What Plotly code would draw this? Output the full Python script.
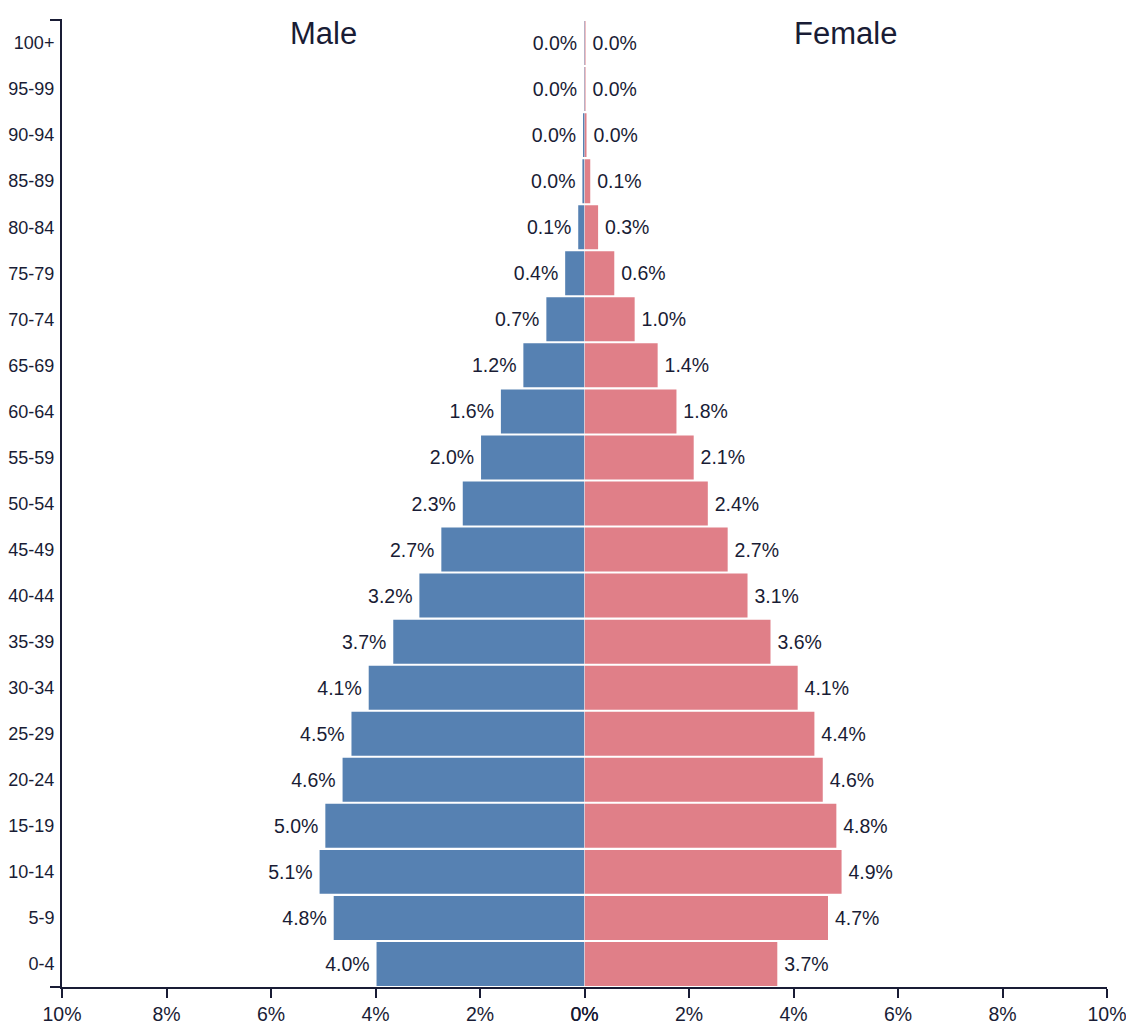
import plotly.graph_objects as go

# age groups, bottom to top
age_groups = ["0-4", "5-9", "10-14", "15-19", "20-24", "25-29", "30-34", "35-39",
              "40-44", "45-49", "50-54", "55-59", "60-64", "65-69", "70-74",
              "75-79", "80-84", "85-89", "90-94", "95-99", "100+"]

# share of total population (%)
male_pct = [3.98, 4.80, 5.07, 4.96, 4.63, 4.46, 4.13, 3.66, 3.16, 2.74, 2.33,
            1.98, 1.60, 1.17, 0.73, 0.37, 0.12, 0.04, 0.01, 0.003, 0.001]
female_pct = [3.69, 4.66, 4.92, 4.82, 4.56, 4.40, 4.08, 3.56, 3.12, 2.74, 2.36,
              2.09, 1.76, 1.40, 0.96, 0.57, 0.26, 0.11, 0.03, 0.01, 0.001]

tick_vals = [0, 2, 4, 6, 8, 10]
tick_text = [f"{v}%" for v in tick_vals]

FONT = "Liberation Sans, Arial, Helvetica, sans-serif"
INK = "#191c35"
MALE_COLOR = "#5681b2"
FEMALE_COLOR = "#e07f88"
FS = 19.5

fig = go.Figure()

fig.add_trace(go.Bar(
    y=age_groups, x=male_pct, orientation="h",
    marker=dict(color=MALE_COLOR, line=dict(width=0)),
    text=[f"{v:.1f}%\u2009" for v in male_pct],
    textposition="outside", cliponaxis=False,
    textfont=dict(size=FS, color=INK, family=FONT),
    xaxis="x", yaxis="y", name="Male",
))
fig.add_trace(go.Bar(
    y=age_groups, x=female_pct, orientation="h",
    marker=dict(color=FEMALE_COLOR, line=dict(width=0)),
    text=[f"\u2009{v:.1f}%" for v in female_pct],
    textposition="outside", cliponaxis=False,
    textfont=dict(size=FS, color=INK, family=FONT),
    xaxis="x2", yaxis="y", name="Female",
))

axis_common = dict(
    tickmode="array", tickvals=tick_vals, ticktext=tick_text,
    showgrid=False, zeroline=False, automargin=False,
    showline=True, linecolor=INK, linewidth=2,
    ticks="outside", ticklen=9, tickwidth=2, tickcolor=INK,
    tickfont=dict(size=FS, color=INK, family=FONT),
)

# page body adds an 8px offset, margins compensate for it
fig.update_layout(
    width=1134, height=1034,
    margin=dict(l=54, r=35, t=12, b=55),
    paper_bgcolor="white", plot_bgcolor="white",
    showlegend=False, bargap=0.045,
    font=dict(family=FONT, color=INK),
    xaxis=dict(domain=[0, 0.5], range=[10, 0], **axis_common),
    xaxis2=dict(domain=[0.5, 1], range=[0, 10], anchor="y", **axis_common),
    yaxis=dict(
        showline=True, linecolor=INK, linewidth=2, showgrid=False,
        automargin=False, ticks="",
        tickfont=dict(size=18, color=INK, family=FONT),
        ticklabelstandoff=2,
    ),
    annotations=[
        dict(text="Male", x=0.25, y=1, xref="paper", yref="paper",
             xanchor="center", yanchor="middle", yshift=-13, showarrow=False,
             font=dict(size=31, color=INK, family=FONT)),
        dict(text="Female", x=0.75, y=1, xref="paper", yref="paper",
             xanchor="center", yanchor="middle", yshift=-13, showarrow=False,
             font=dict(size=31, color=INK, family=FONT)),
    ],
    shapes=[
        # outer ticks of the y axis domain
        dict(type="line", xref="paper", yref="paper", xsizemode="pixel", xanchor=0,
             x0=-12, x1=0, y0=1, y1=1, line=dict(color=INK, width=2)),
        dict(type="line", xref="paper", yref="paper", xsizemode="pixel", xanchor=0,
             x0=-12, x1=0, y0=0, y1=0, line=dict(color=INK, width=2)),
    ],
)

fig.write_html("out.html")
